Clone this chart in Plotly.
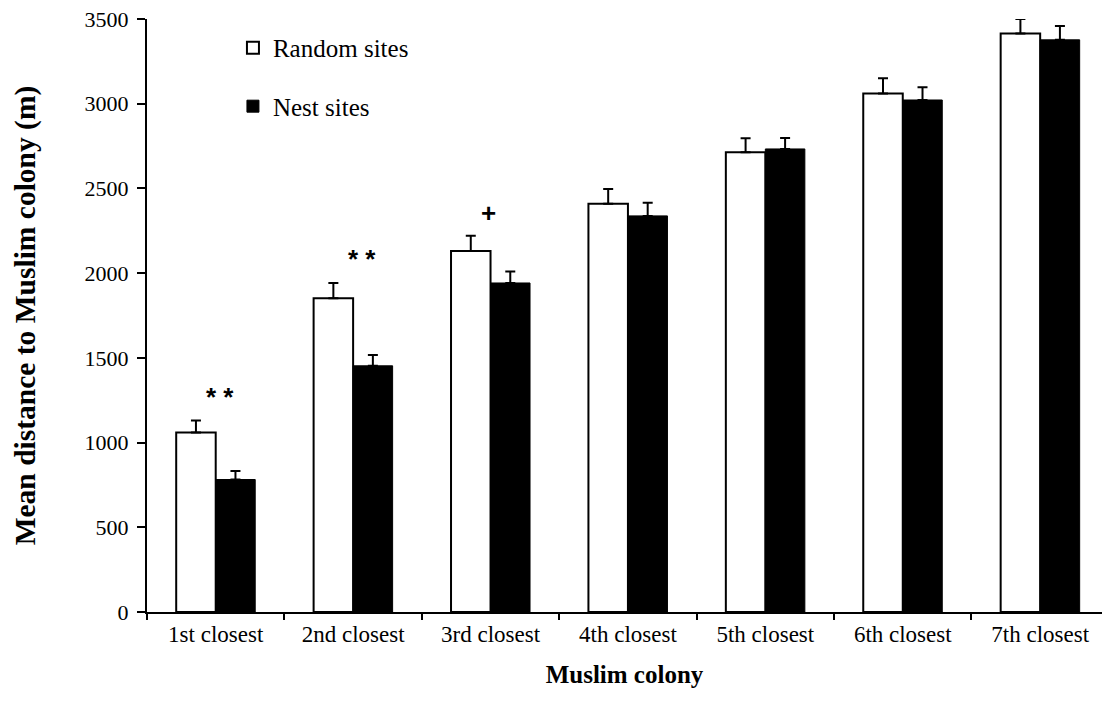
import plotly.graph_objects as go

# Mean distance (m) from sites to the n-th closest Muslim colony
categories = ["1st closest", "2nd closest", "3rd closest", "4th closest",
              "5th closest", "6th closest", "7th closest"]
random_mean = [1060, 1852, 2130, 2410, 2713, 3060, 3415]
random_se = [70, 90, 90, 86, 83, 90, 85]
nest_mean = [782, 1453, 1942, 2338, 2733, 3022, 3377]
nest_se = [50, 64, 68, 78, 65, 75, 82]

# Significance marks above the pairs of bars
sig_categories = ["1st closest", "2nd closest", "3rd closest"]
sig_labels = ["* *", "* *", "+"]
sig_heights = [1270, 2085, 2355]
sig_xshift = [4, 9, -2]

y_ticks = [0, 500, 1000, 1500, 2000, 2500, 3000, 3500]

serif = "Liberation Serif, Times New Roman, serif"

fig = go.Figure()
fig.add_trace(go.Bar(
    name="Random sites", x=categories, y=random_mean,
    marker=dict(color="white", line=dict(color="black", width=2)),
    error_y=dict(type="data", array=random_se, arrayminus=[0] * len(random_se),
                 symmetric=False, color="black", thickness=2, width=5),
    legendgroup="r",
))
fig.add_trace(go.Bar(
    name="Nest sites", x=categories, y=nest_mean,
    marker=dict(color="black", line=dict(color="black", width=1)),
    error_y=dict(type="data", array=nest_se, arrayminus=[0] * len(nest_se),
                 symmetric=False, color="black", thickness=2, width=5),
    legendgroup="n",
))

for cat, lab, h, dx in zip(sig_categories, sig_labels, sig_heights, sig_xshift):
    fig.add_annotation(x=cat, y=h, xref="x", yref="y", text=f"<b>{lab}</b>",
                       showarrow=False, yanchor="middle", xshift=dx,
                       font=dict(family="Liberation Sans, Arial, sans-serif",
                                 size=26, color="black"))

fig.update_layout(
    width=1102, height=715,
    margin=dict(l=147, r=0, t=19, b=103),
    paper_bgcolor="white", plot_bgcolor="white",
    barmode="group", bargap=0.425, bargroupgap=0,
    font=dict(family=serif, size=22, color="black"),
    showlegend=True,
    legend=dict(x=0.09, y=0.99, xanchor="left", yanchor="top",
                bgcolor="rgba(0,0,0,0)", font=dict(size=25, family=serif),
                traceorder="grouped", tracegroupgap=23, itemwidth=30),
)
fig.update_xaxes(
    range=[-0.5, 6.45], showline=True, linecolor="black", linewidth=2,
    ticks="outside", tickson="boundaries", ticklen=6, tickwidth=2,
    tickcolor="black", showgrid=False, zeroline=False,
    tickfont=dict(size=23, family=serif),
    title=dict(text="<b>Muslim colony</b>", font=dict(size=25, family=serif),
               standoff=20),
)
fig.update_yaxes(
    range=[0, 3500], tickvals=y_ticks, showline=True, linecolor="black",
    linewidth=2, ticks="outside", ticklen=8, tickwidth=2, tickcolor="black",
    ticklabelstandoff=4,
    showgrid=False, zeroline=False, tickfont=dict(size=22, family=serif),
    title=dict(text="<b>Mean distance to Muslim colony (m)</b>",
               font=dict(size=29.5, family=serif), standoff=40),
)

fig.write_html("out.html")
